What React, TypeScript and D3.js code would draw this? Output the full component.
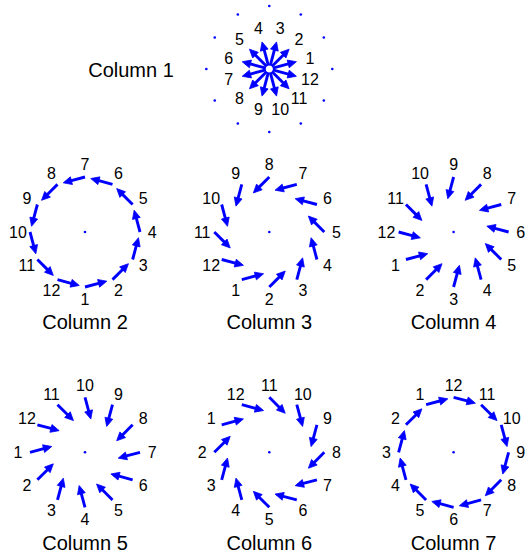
import React from "react";
import * as d3 from "d3";

const COLUMN_NAMES = ["Column 1", "Column 2", "Column 3", "Column 4", "Column 5", "Column 6", "Column 7"];
const POINT_LABELS = ["1", "2", "3", "4", "5", "6", "7", "8", "9", "10", "11", "12"];
// angle (deg, counter-clockwise from east) of point "1" minus one step, per column
const START_ANGLES = [-15, 240, 210, 180, 150, 120, 90];
// arrow direction relative to the outward radial, per column
const ARROW_TURNS = [0, 105, 135, 165, 195, 225, 255];
// panel grid placement (row, col)
const PANEL_ROWS = [0, 1, 1, 1, 2, 2, 2];
const PANEL_COLS = [1, 0, 1, 2, 0, 1, 2];
const RING_DOT_ANGLES = [0, 30, 60, 90, 120, 150, 180, 210, 240, 270, 300, 330];

const W = 525;
const H = 556;
const BLUE = "#0000ff";

const colX = d3.scalePoint<number>().domain([0, 1, 2]).range([85, 453.6]);
const rowY = d3.scaleOrdinal<number, number>().domain([0, 1, 2]).range([69, 232, 452.3]);

function arrowShapes(x1: number, y1: number, x2: number, y2: number, key: string) {
  const dx = x2 - x1, dy = y2 - y1;
  const L = Math.hypot(dx, dy);
  const ux = dx / L, uy = dy / L;
  const hl = 8.5, hw = 4;
  const bx = x2 - ux * hl, by = y2 - uy * hl;
  const px = -uy, py = ux;
  const pts = [
    [x2, y2],
    [bx + px * hw, by + py * hw],
    [bx - px * hw, by - py * hw],
  ];
  return (
    <g key={key}>
      <line x1={x1} y1={y1} x2={bx + ux * 1} y2={by + uy * 1} stroke={BLUE} strokeWidth={2.9} />
      <polygon points={pts.map((p) => p.join(",")).join(" ")} fill={BLUE} stroke={BLUE} strokeWidth={0.8} strokeLinejoin="miter" />
    </g>
  );
}

function Panel({ idx }: { idx: number }) {
  const cx = colX(PANEL_COLS[idx]) as number;
  const cy = rowY(PANEL_ROWS[idx]);
  const sx = d3.scaleLinear().domain([-1, 1]).range([cx - 55, cx + 55]);
  const sy = d3.scaleLinear().domain([-1, 1]).range([cy + 55, cy - 55]);
  const rad = (deg: number) => (deg * Math.PI) / 180;
  const isFirst = idx === 0;

  const items = POINT_LABELS.map((lab, i) => {
    const phi = START_ANGLES[idx] + 30 * (i + 1);
    const dir = phi + ARROW_TURNS[idx];
    let tx: number, ty: number, hx: number, hy: number, lr: number;
    if (isFirst) {
      tx = 0.065 * Math.cos(rad(phi));
      ty = 0.065 * Math.sin(rad(phi));
      hx = 0.51 * Math.cos(rad(phi));
      hy = 0.51 * Math.sin(rad(phi));
      lr = 0.765;
    } else {
      tx = Math.cos(rad(phi));
      ty = Math.sin(rad(phi));
      hx = tx + 0.41 * Math.cos(rad(dir));
      hy = ty + 0.41 * Math.sin(rad(dir));
      lr = 1.22;
    }
    const lx = lr * Math.cos(rad(phi));
    const ly = lr * Math.sin(rad(phi));
    return (
      <g key={lab}>
        {arrowShapes(sx(tx), sy(ty), sx(hx), sy(hy), "a" + lab)}
        <text x={sx(lx)} y={sy(ly)} textAnchor="middle" dominantBaseline="central" fontSize={16} fill="#000">
          {lab}
        </text>
      </g>
    );
  });

  return (
    <g>
      {isFirst
        ? RING_DOT_ANGLES.map((a) => (
            <circle key={a} cx={sx(1.145 * Math.cos(rad(a)))} cy={sy(1.145 * Math.sin(rad(a)))} r={1.3} fill={BLUE} />
          ))
        : <circle cx={sx(0)} cy={sy(0)} r={1.3} fill={BLUE} />}
      {items}
      {isFirst ? (
        <text x={131} y={77} textAnchor="middle" fontSize={20} fill="#000">
          {COLUMN_NAMES[idx]}
        </text>
      ) : (
        <text x={cx} y={cy + (PANEL_ROWS[idx] === 1 ? 96.5 : 97.5)} textAnchor="middle" fontSize={20} fill="#000">
          {COLUMN_NAMES[idx]}
        </text>
      )}
    </g>
  );
}

export default function App() {
  return (
    <svg
      width={W}
      height={H}
      style={{ position: "absolute", left: 0, top: 0, background: "#fff" }}
      fontFamily="Arial, 'Liberation Sans', Helvetica, sans-serif"
    >
      <rect width={W} height={H} fill="#fff" />
      {COLUMN_NAMES.map((_, i) => (
        <Panel key={i} idx={i} />
      ))}
    </svg>
  );
}
